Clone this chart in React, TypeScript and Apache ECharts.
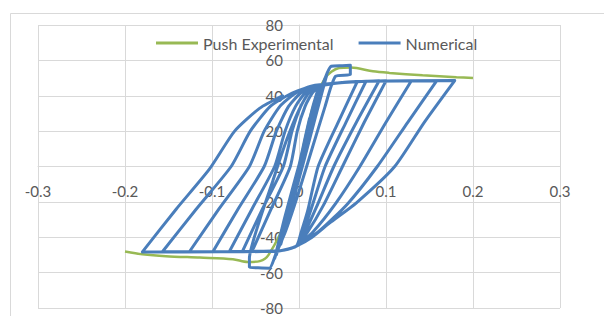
import React, { useEffect, useRef } from "react";
import * as echarts from "echarts";

const seriesNames = ["Push Experimental", "Numerical"];
const xRange = { min: -0.3, max: 0.3, interval: 0.1 };
const yRange = { min: -80, max: 80, interval: 20 };

// Push experimental envelope (x = drift, y = force)
const pushExperimental: number[][] = [
  [-0.2, -48], [-0.18, -49.6], [-0.153, -50.7], [-0.114, -51.5], [-0.076, -52.4],
  [-0.059, -54], [-0.045, -53.5], [-0.035, -50], [-0.015, -30], [0, 0],
  [0.015, 32], [0.03, 50], [0.046, 55.7], [0.06, 56], [0.085, 53.8],
  [0.104, 52.9], [0.142, 51.6], [0.181, 50.5], [0.2, 50],
];

// Numerical: early small cycles
const numericalSmall: number[][] = [
  [0, 0], [0.006, 14], [0.012, 27],
  [0.004, 8], [-0.004, -10], [-0.011, -26],
  [-0.003, -6], [0.008, 18], [0.016, 34], [0.022, 44],
  [0.012, 22], [0.0, -2], [-0.012, -28], [-0.021, -44],
  [-0.01, -18], [0.004, 8], [0.018, 32], [0.03, 50],
  [0.018, 28], [0.004, 2], [-0.012, -26], [-0.026, -50],
  [-0.014, -26], [0.002, 4], [0.018, 32], [0.032, 52],
  [0.02, 30], [0.005, 2], [-0.012, -28], [-0.028, -52],
  [-0.016, -28], [0.004, 8], [0.02, 36], [0.03, 50], [0.037, 56.7], [0.05, 57], [0.059, 57.3],
  [0.059, 52], [0.042, 51],
  [0.03, 34], [0.015, 10], [0.0, -14], [-0.015, -36], [-0.027, -50], [-0.034, -57.5],
  [-0.047, -57.3], [-0.057, -57], [-0.057, -52],
  [-0.045, -30], [-0.03, -8], [-0.015, 14], [0.0, 32], [0.012, 42], [0.028, 46], [0.05, 47.5], [0.067, 48],
];

// Numerical: large cycles
const numericalLarge: number[][] = [
  [0.045, 25], [0.022, 0], [0.01, -25], [0.002, -38], [-0.003, -45], [-0.02, -47.5], [-0.035, -48], [-0.054, -48],
  [-0.032, -24], [-0.01, 0], [-0.002, 20], [0.007, 34], [0.016, 42], [0.028, 46], [0.05, 47.5], [0.077, 48.2],
  [0.054, 25], [0.03, 0], [0.014, -24], [0.004, -38], [-0.003, -45], [-0.02, -47.5], [-0.04, -48], [-0.065, -48],
  [-0.042, -24], [-0.018, 0], [-0.008, 20], [0.002, 34], [0.012, 42], [0.025, 45.5], [0.05, 47.5], [0.077, 48.2], [0.092, 48.3],
  [0.066, 25], [0.04, 0], [0.02, -23], [0.006, -38], [-0.003, -45], [-0.02, -47.5], [-0.05, -48.1], [-0.08, -48.1],
  [-0.054, -24], [-0.028, 0], [-0.016, 20], [-0.004, 34], [0.008, 42], [0.022, 45.5], [0.045, 47.2], [0.077, 48.2], [0.1, 48.4],
  [0.075, 25], [0.05, 0], [0.028, -22], [0.01, -37], [-0.003, -45], [-0.02, -47.5], [-0.06, -48.2], [-0.099, -48.2],
  [-0.07, -24], [-0.04, 0], [-0.026, 20], [-0.012, 34], [0.003, 42], [0.02, 45.5], [0.04, 47], [0.077, 48.2], [0.129, 48.3],
  [0.1, 25], [0.07, 0], [0.042, -21], [0.016, -37], [-0.003, -45], [-0.02, -47.5], [-0.07, -48.2], [-0.126, -48.2],
  [-0.092, -24], [-0.057, 0], [-0.04, 20], [-0.022, 34], [-0.004, 41.5], [0.017, 45.5], [0.04, 47], [0.077, 48.2], [0.158, 48.3],
  [0.125, 25], [0.09, 0], [0.056, -21], [0.022, -37], [-0.003, -45], [-0.02, -47.5], [-0.08, -48.2], [-0.157, -48.2],
  [-0.118, -24], [-0.078, 0], [-0.056, 20], [-0.033, 34], [-0.01, 41], [0.015, 45.5], [0.04, 47], [0.077, 48.2], [0.179, 48.6],
  [0.144, 25], [0.11, 0], [0.066, -20.5], [0.035, -32], [0.015, -40], [-0.003, -45], [-0.02, -47.5], [-0.09, -48.2], [-0.18, -48.3],
  [-0.141, -24], [-0.103, -1.5], [-0.074, 20], [-0.045, 33], [-0.019, 40],
];

const FONT = "Lato, 'Open Sans', sans-serif";
const TEXT = "#595959";
const GRIDC = "#d9d9d9";

const GRID = { left: 38, top: 25, width: 522, height: 283 };

export default function App() {
  const ref = useRef<HTMLDivElement>(null);
  useEffect(() => {
    if (!ref.current) return;
    const chart = echarts.init(ref.current, undefined, { renderer: "svg" });
    const fmt = (v: number) => String(Math.round(v * 10) / 10);
    // place axes at the zero of the other axis
    const zeroYpx = GRID.top + GRID.height * (yRange.max / (yRange.max - yRange.min));
    const zeroXpx = GRID.left + GRID.width * ((0 - xRange.min) / (xRange.max - xRange.min));
    chart.setOption({
      animation: false,
      backgroundColor: "#ffffff",
      graphic: [
        {
          type: "rect",
          shape: { x: 10.5, y: 13.5, width: 620, height: 340 },
          style: { fill: "none", stroke: GRIDC, lineWidth: 1 },
          silent: true,
        },
      ],
      grid: GRID,
      legend: {
        left: 151,
        top: 30,
        icon: "rect",
        itemWidth: 42,
        itemHeight: 3,
        itemGap: 25,
        textStyle: { color: TEXT, fontSize: 16, lineHeight: 14, fontFamily: FONT },
        data: seriesNames,
      },
      xAxis: {
        type: "value",
        min: xRange.min,
        max: xRange.max,
        interval: xRange.interval,
        position: "bottom",
        offset: -(GRID.top + GRID.height - zeroYpx),
        axisLine: { onZero: false, lineStyle: { color: GRIDC } },
        axisTick: { show: false },
        axisLabel: { margin: 17, color: TEXT, fontSize: 15, fontFamily: FONT, formatter: fmt },
        splitLine: { lineStyle: { color: GRIDC } },
      },
      yAxis: {
        type: "value",
        min: yRange.min,
        max: yRange.max,
        interval: yRange.interval,
        position: "left",
        offset: -(zeroXpx - GRID.left),
        axisLine: { onZero: false, lineStyle: { color: GRIDC } },
        axisTick: { show: false },
        axisLabel: { margin: 16, color: TEXT, fontSize: 15, lineHeight: 13, fontFamily: FONT },
        splitLine: { lineStyle: { color: GRIDC } },
      },
      series: [
        {
          name: seriesNames[0],
          type: "line",
          data: pushExperimental,
          showSymbol: false,
          smooth: 0.3,
          lineStyle: { color: "#98B954", width: 2.5 },
          itemStyle: { color: "#98B954" },
        },
        {
          name: seriesNames[1],
          type: "line",
          data: [...numericalSmall, ...numericalLarge],
          showSymbol: false,
          smooth: 0.2,
          lineStyle: { color: "#4A7EBB", width: 3, join: "round", cap: "round" },
          itemStyle: { color: "#4A7EBB" },
        },
      ],
    });
    return () => chart.dispose();
  }, []);
  return (
    <div
      ref={ref}
      style={{ position: "fixed", left: 0, top: 0, width: 604, height: 316, background: "#fff" }}
    />
  );
}
